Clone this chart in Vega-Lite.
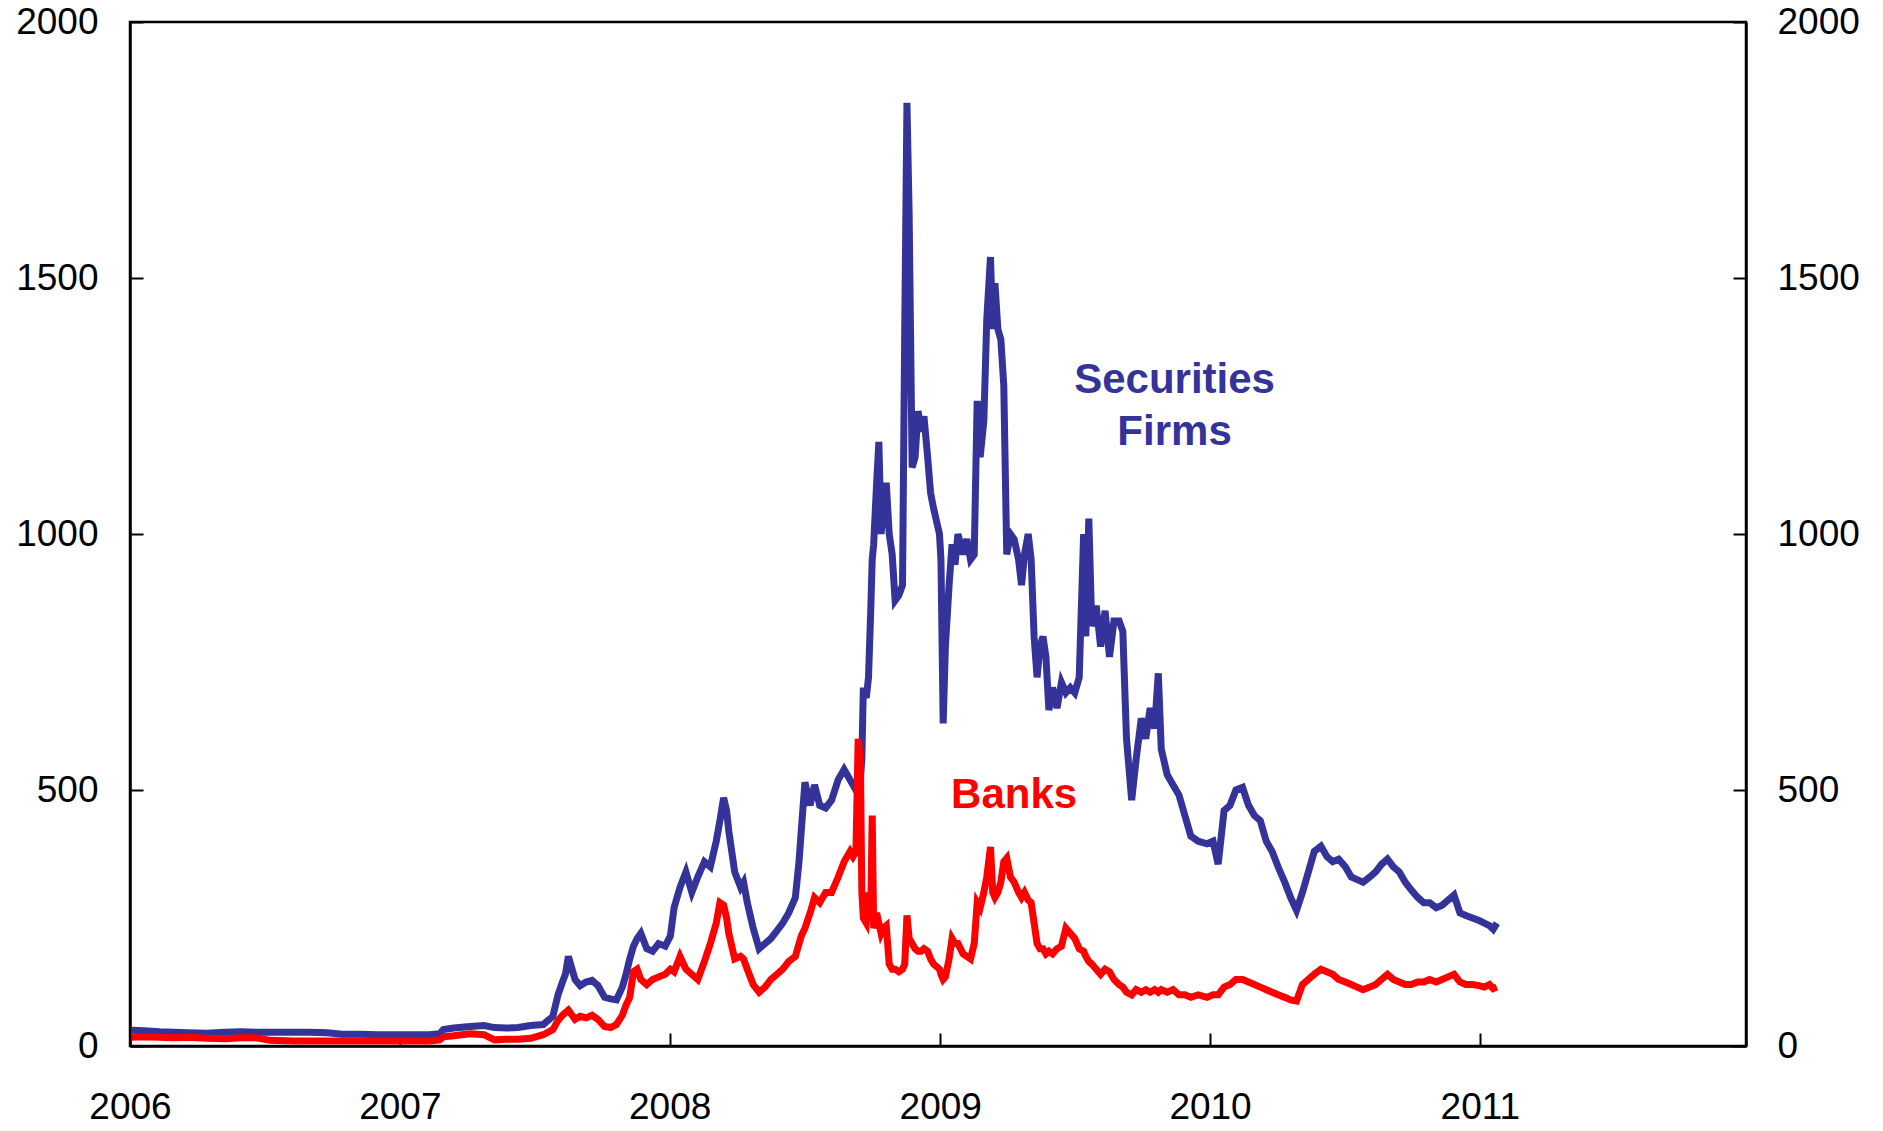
{
  "$schema": "https://vega.github.io/schema/vega-lite/v6.json",
  "width": 1616,
  "height": 1024,
  "autosize": {"type": "none"},
  "padding": {"left": 130, "top": 22, "right": 137, "bottom": 85},
  "background": "#ffffff",
  "config": {
    "view": {"stroke": "#000000", "strokeWidth": 2.5},
    "axis": {
      "labelFont": "Liberation Sans",
      "labelFontSize": 37,
      "labelColor": "#000000",
      "domainColor": "#000000",
      "domainWidth": 2.5,
      "tickColor": "#000000",
      "tickWidth": 2,
      "grid": false,
      "title": null
    }
  },
  "datasets": {
    "cds": [
      {"d":"2006-01-03","sec":31,"bank":17},{"d":"2006-01-20","sec":30,"bank":18},{"d":"2006-02-10","sec":28,"bank":17},{"d":"2006-03-01","sec":27,"bank":16},{"d":"2006-03-20","sec":26,"bank":17},{"d":"2006-04-15","sec":25,"bank":15},{"d":"2006-05-10","sec":27,"bank":14},{"d":"2006-06-01","sec":28,"bank":16},{"d":"2006-06-20","sec":27,"bank":16},{"d":"2006-07-10","sec":27,"bank":11},{"d":"2006-08-10","sec":27,"bank":10},{"d":"2006-09-01","sec":27,"bank":10},{"d":"2006-09-25","sec":26,"bank":10},{"d":"2006-10-15","sec":23,"bank":10},{"d":"2006-11-10","sec":23,"bank":10},{"d":"2006-12-01","sec":22,"bank":10},{"d":"2006-12-20","sec":22,"bank":10},
      {"d":"2007-01-15","sec":22,"bank":10},{"d":"2007-02-10","sec":22,"bank":10},{"d":"2007-02-24","sec":24,"bank":12},{"d":"2007-03-01","sec":32,"bank":18},{"d":"2007-03-15","sec":35,"bank":20},{"d":"2007-04-06","sec":38,"bank":24},{"d":"2007-04-25","sec":40,"bank":22},{"d":"2007-05-09","sec":36,"bank":12},{"d":"2007-05-25","sec":35,"bank":13},{"d":"2007-06-10","sec":36,"bank":13},{"d":"2007-06-27","sec":40,"bank":15},{"d":"2007-07-14","sec":42,"bank":22},{"d":"2007-07-27","sec":58,"bank":32},{"d":"2007-08-03","sec":100,"bank":50},{"d":"2007-08-09","sec":125,"bank":60},{"d":"2007-08-13","sec":140,"bank":65},{"d":"2007-08-17","sec":175,"bank":70},{"d":"2007-08-22","sec":150,"bank":60},{"d":"2007-08-26","sec":130,"bank":52},{"d":"2007-09-02","sec":118,"bank":58},{"d":"2007-09-10","sec":125,"bank":55},{"d":"2007-09-18","sec":128,"bank":60},{"d":"2007-09-26","sec":118,"bank":52},{"d":"2007-10-05","sec":95,"bank":38},{"d":"2007-10-13","sec":92,"bank":36},{"d":"2007-10-21","sec":90,"bank":42},{"d":"2007-10-29","sec":115,"bank":60},{"d":"2007-11-03","sec":140,"bank":80},{"d":"2007-11-08","sec":170,"bank":95},{"d":"2007-11-13","sec":195,"bank":145},{"d":"2007-11-18","sec":210,"bank":150},{"d":"2007-11-23","sec":220,"bank":130},{"d":"2007-12-01","sec":190,"bank":120},{"d":"2007-12-09","sec":185,"bank":130},{"d":"2007-12-17","sec":200,"bank":135},{"d":"2007-12-26","sec":195,"bank":140},
      {"d":"2008-01-02","sec":215,"bank":150},{"d":"2008-01-07","sec":270,"bank":145},{"d":"2008-01-15","sec":310,"bank":175},{"d":"2008-01-23","sec":340,"bank":150},{"d":"2008-01-31","sec":300,"bank":140},{"d":"2008-02-08","sec":330,"bank":130},{"d":"2008-02-17","sec":360,"bank":165},{"d":"2008-02-25","sec":350,"bank":200},{"d":"2008-03-04","sec":400,"bank":240},{"d":"2008-03-09","sec":440,"bank":280},{"d":"2008-03-14","sec":485,"bank":275},{"d":"2008-03-18","sec":460,"bank":250},{"d":"2008-03-21","sec":420,"bank":220},{"d":"2008-03-29","sec":340,"bank":170},{"d":"2008-04-06","sec":310,"bank":175},{"d":"2008-04-10","sec":320,"bank":170},{"d":"2008-04-15","sec":280,"bank":150},{"d":"2008-04-23","sec":230,"bank":120},{"d":"2008-05-01","sec":190,"bank":105},{"d":"2008-05-09","sec":200,"bank":115},{"d":"2008-05-17","sec":210,"bank":130},{"d":"2008-05-25","sec":225,"bank":140},{"d":"2008-06-02","sec":240,"bank":150},{"d":"2008-06-10","sec":260,"bank":165},{"d":"2008-06-19","sec":290,"bank":175},{"d":"2008-06-24","sec":360,"bank":200},{"d":"2008-06-27","sec":420,"bank":215},{"d":"2008-07-02","sec":515,"bank":230},{"d":"2008-07-09","sec":470,"bank":260},{"d":"2008-07-15","sec":510,"bank":290},{"d":"2008-07-22","sec":470,"bank":280},{"d":"2008-07-30","sec":465,"bank":300},{"d":"2008-08-07","sec":480,"bank":300},{"d":"2008-08-16","sec":520,"bank":330},{"d":"2008-08-24","sec":540,"bank":360},{"d":"2008-09-01","sec":520,"bank":380},{"d":"2008-09-05","sec":510,"bank":370},{"d":"2008-09-09","sec":500,"bank":380},{"d":"2008-09-12","sec":505,"bank":600},{"d":"2008-09-15","sec":520,"bank":560},{"d":"2008-09-17","sec":560,"bank":300},{"d":"2008-09-19","sec":700,"bank":250},{"d":"2008-09-23","sec":680,"bank":240},{"d":"2008-09-26","sec":720,"bank":300},{"d":"2008-09-29","sec":850,"bank":260},{"d":"2008-10-01","sec":950,"bank":450},{"d":"2008-10-03","sec":980,"bank":230},{"d":"2008-10-07","sec":1100,"bank":260},{"d":"2008-10-10","sec":1180,"bank":240},{"d":"2008-10-13","sec":1000,"bank":220},{"d":"2008-10-16","sec":1050,"bank":230},{"d":"2008-10-20","sec":1100,"bank":235},{"d":"2008-10-24","sec":1000,"bank":160},{"d":"2008-10-28","sec":960,"bank":150},{"d":"2008-11-01","sec":870,"bank":150},{"d":"2008-11-06","sec":880,"bank":145},{"d":"2008-11-11","sec":900,"bank":150},{"d":"2008-11-14","sec":1400,"bank":160},{"d":"2008-11-17","sec":1842,"bank":255},{"d":"2008-11-20","sec":1620,"bank":210},{"d":"2008-11-24","sec":1130,"bank":200},{"d":"2008-11-28","sec":1150,"bank":190},{"d":"2008-12-02","sec":1240,"bank":185},{"d":"2008-12-06","sec":1200,"bank":185},{"d":"2008-12-10","sec":1230,"bank":190},{"d":"2008-12-15","sec":1150,"bank":185},{"d":"2008-12-19","sec":1080,"bank":170},{"d":"2008-12-23","sec":1050,"bank":160},{"d":"2008-12-31","sec":1000,"bank":150},
      {"d":"2009-01-02","sec":950,"bank":140},{"d":"2009-01-05","sec":630,"bank":130},{"d":"2009-01-08","sec":780,"bank":135},{"d":"2009-01-13","sec":900,"bank":170},{"d":"2009-01-17","sec":980,"bank":210},{"d":"2009-01-21","sec":940,"bank":200},{"d":"2009-01-25","sec":1000,"bank":200},{"d":"2009-02-01","sec":960,"bank":180},{"d":"2009-02-06","sec":990,"bank":175},{"d":"2009-02-11","sec":950,"bank":170},{"d":"2009-02-16","sec":960,"bank":200},{"d":"2009-02-20","sec":1260,"bank":280},{"d":"2009-02-24","sec":1150,"bank":270},{"d":"2009-03-01","sec":1220,"bank":300},{"d":"2009-03-05","sec":1420,"bank":330},{"d":"2009-03-10","sec":1541,"bank":389},{"d":"2009-03-13","sec":1400,"bank":300},{"d":"2009-03-16","sec":1490,"bank":290},{"d":"2009-03-20","sec":1400,"bank":300},{"d":"2009-03-24","sec":1380,"bank":320},{"d":"2009-03-28","sec":1290,"bank":360},{"d":"2009-04-01","sec":960,"bank":367},{"d":"2009-04-06","sec":1000,"bank":330},{"d":"2009-04-11","sec":990,"bank":320},{"d":"2009-04-17","sec":950,"bank":300},{"d":"2009-04-21","sec":900,"bank":290},{"d":"2009-04-25","sec":960,"bank":300},{"d":"2009-04-30","sec":1000,"bank":285},{"d":"2009-05-04","sec":950,"bank":280},{"d":"2009-05-08","sec":800,"bank":240},{"d":"2009-05-12","sec":720,"bank":200},{"d":"2009-05-16","sec":780,"bank":190},{"d":"2009-05-20","sec":800,"bank":190},{"d":"2009-05-24","sec":760,"bank":180},{"d":"2009-05-28","sec":656,"bank":185},{"d":"2009-06-02","sec":700,"bank":180},{"d":"2009-06-08","sec":660,"bank":190},{"d":"2009-06-14","sec":710,"bank":195},{"d":"2009-06-20","sec":690,"bank":230},{"d":"2009-06-26","sec":700,"bank":220},{"d":"2009-07-02","sec":690,"bank":210},{"d":"2009-07-08","sec":720,"bank":190},{"d":"2009-07-14","sec":1000,"bank":185},{"d":"2009-07-17","sec":800,"bank":175},{"d":"2009-07-21","sec":1030,"bank":165},{"d":"2009-07-25","sec":820,"bank":160},{"d":"2009-07-31","sec":860,"bank":150},{"d":"2009-08-06","sec":780,"bank":140},{"d":"2009-08-12","sec":850,"bank":150},{"d":"2009-08-18","sec":760,"bank":145},{"d":"2009-08-24","sec":830,"bank":130},{"d":"2009-08-31","sec":830,"bank":120},{"d":"2009-09-05","sec":810,"bank":115},{"d":"2009-09-10","sec":600,"bank":105},{"d":"2009-09-17","sec":480,"bank":100},{"d":"2009-09-23","sec":560,"bank":110},{"d":"2009-09-30","sec":640,"bank":105},{"d":"2009-10-06","sec":600,"bank":110},{"d":"2009-10-12","sec":660,"bank":105},{"d":"2009-10-18","sec":620,"bank":110},{"d":"2009-10-23","sec":728,"bank":105},{"d":"2009-10-27","sec":580,"bank":110},{"d":"2009-11-04","sec":530,"bank":105},{"d":"2009-11-12","sec":510,"bank":110},{"d":"2009-11-20","sec":490,"bank":100},{"d":"2009-11-28","sec":450,"bank":100},{"d":"2009-12-06","sec":410,"bank":95},{"d":"2009-12-16","sec":400,"bank":100},{"d":"2009-12-28","sec":395,"bank":95},
      {"d":"2010-01-05","sec":400,"bank":100},{"d":"2010-01-12","sec":355,"bank":100},{"d":"2010-01-20","sec":460,"bank":115},{"d":"2010-01-28","sec":470,"bank":120},{"d":"2010-02-05","sec":500,"bank":130},{"d":"2010-02-14","sec":505,"bank":130},{"d":"2010-02-22","sec":470,"bank":125},{"d":"2010-03-02","sec":450,"bank":120},{"d":"2010-03-10","sec":440,"bank":115},{"d":"2010-03-18","sec":400,"bank":110},{"d":"2010-03-26","sec":380,"bank":105},{"d":"2010-04-03","sec":350,"bank":100},{"d":"2010-04-12","sec":320,"bank":95},{"d":"2010-04-20","sec":290,"bank":90},{"d":"2010-04-28","sec":265,"bank":88},{"d":"2010-05-06","sec":300,"bank":120},{"d":"2010-05-14","sec":340,"bank":130},{"d":"2010-05-22","sec":380,"bank":140},{"d":"2010-05-31","sec":390,"bank":150},{"d":"2010-06-08","sec":370,"bank":145},{"d":"2010-06-16","sec":360,"bank":140},{"d":"2010-06-24","sec":365,"bank":130},{"d":"2010-07-03","sec":350,"bank":125},{"d":"2010-07-11","sec":330,"bank":120},{"d":"2010-07-19","sec":325,"bank":115},{"d":"2010-07-27","sec":320,"bank":110},{"d":"2010-08-05","sec":330,"bank":115},{"d":"2010-08-13","sec":340,"bank":120},{"d":"2010-08-21","sec":355,"bank":130},{"d":"2010-08-29","sec":365,"bank":140},{"d":"2010-09-06","sec":350,"bank":130},{"d":"2010-09-14","sec":340,"bank":125},{"d":"2010-09-22","sec":320,"bank":120},{"d":"2010-09-30","sec":305,"bank":120},{"d":"2010-10-09","sec":290,"bank":125},{"d":"2010-10-17","sec":280,"bank":125},{"d":"2010-10-25","sec":280,"bank":130},{"d":"2010-11-03","sec":270,"bank":125},{"d":"2010-11-11","sec":275,"bank":130},{"d":"2010-11-19","sec":285,"bank":135},{"d":"2010-11-27","sec":295,"bank":140},{"d":"2010-12-05","sec":260,"bank":125},{"d":"2010-12-13","sec":255,"bank":120},{"d":"2010-12-22","sec":250,"bank":120},{"d":"2010-12-31","sec":245,"bank":118},
      {"d":"2011-01-07","sec":240,"bank":115},{"d":"2011-01-14","sec":235,"bank":120},{"d":"2011-01-19","sec":228,"bank":112},{"d":"2011-01-24","sec":240,"bank":115}
    ],
    "labels": [
      {"d":"2009-11-14","v":1301,"t":"Securities","c":"sec"},
      {"d":"2009-11-14","v":1199,"t":"Firms","c":"sec"},
      {"d":"2009-04-11","v":490,"t":"Banks","c":"bank"}
    ]
  },
  "encoding": {
    "x": {
      "field": "d",
      "type": "temporal",
      "scale": {
        "type": "utc",
        "domain": [{"year": 2006, "month": 1, "date": 1, "utc": true}, {"year": 2011, "month": 12, "date": 27, "utc": true}]
      },
      "axis": {
        "orient": "bottom",
        "values": [
          {"year": 2006, "month": 1, "date": 1, "utc": true},
          {"year": 2007, "month": 1, "date": 1, "utc": true},
          {"year": 2008, "month": 1, "date": 1, "utc": true},
          {"year": 2009, "month": 1, "date": 1, "utc": true},
          {"year": 2010, "month": 1, "date": 1, "utc": true},
          {"year": 2011, "month": 1, "date": 1, "utc": true}
        ],
        "format": "%Y",
        "formatType": "utc",
        "labelFlush": false,
        "labelOverlap": false,
        "tickSize": -13,
        "labelPadding": 56
      }
    }
  },
  "layer": [
    {
      "data": {"name": "cds"},
      "mark": {"type": "line", "color": "#333399", "strokeWidth": 7, "strokeJoin": "miter"},
      "encoding": {
        "y": {
          "field": "sec",
          "type": "quantitative",
          "scale": {"domain": [0, 2000], "nice": false, "zero": true},
          "axis": {"orient": "left", "values": [0, 500, 1000, 1500, 2000], "format": "d", "tickSize": -13, "labelPadding": 45, "labelBaseline": "middle", "labelFlush": false, "labelOverlap": false}
        }
      }
    },
    {
      "data": {"name": "cds"},
      "mark": {"type": "line", "color": "#ff0000", "strokeWidth": 7, "strokeJoin": "miter"},
      "encoding": {
        "y": {
          "field": "bank",
          "type": "quantitative",
          "scale": {"domain": [0, 2000], "nice": false, "zero": true},
          "axis": {"orient": "right", "values": [0, 500, 1000, 1500, 2000], "format": "d", "tickSize": -13, "labelPadding": 44, "labelBaseline": "middle", "labelFlush": false, "labelOverlap": false}
        }
      }
    },
    {
      "data": {"name": "labels"},
      "mark": {"type": "text", "font": "Liberation Sans", "fontWeight": "bold", "fontSize": 42, "align": "center", "baseline": "middle"},
      "encoding": {
        "y": {"field": "v", "type": "quantitative", "scale": {"domain": [0, 2000], "nice": false, "zero": true}, "axis": null},
        "text": {"field": "t"},
        "color": {"field": "c", "type": "nominal", "scale": {"domain": ["sec", "bank"], "range": ["#333399", "#ff0000"]}, "legend": null}
      }
    }
  ],
  "resolve": {"scale": {"y": "independent"}, "axis": {"y": "independent"}}
}
